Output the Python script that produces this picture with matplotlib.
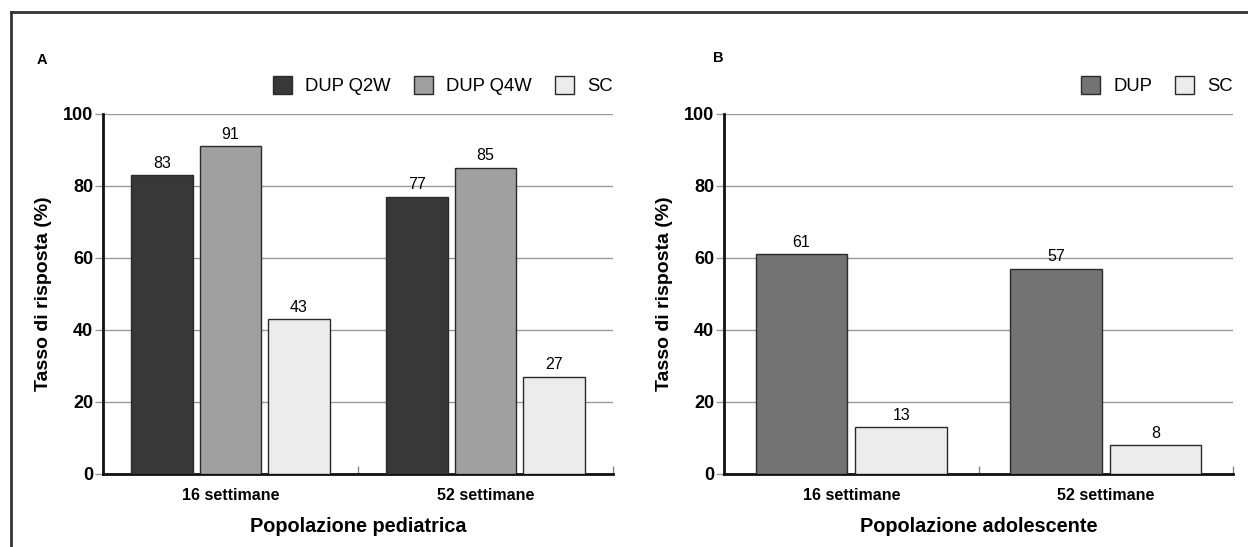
import matplotlib.pyplot as plt
from matplotlib.lines import Line2D
import numpy as np

plt.rcParams['font.family'] = ['Liberation Sans', 'DejaVu Sans']

# Dati
settimane = ['16 settimane', '52 settimane']

ped_serie = ['DUP Q2W', 'DUP Q4W', 'SC']
ped_valori = [[83, 77], [91, 85], [43, 27]]
ped_colori = ['#383838', '#a0a0a0', '#ececec']

ado_serie = ['DUP', 'SC']
ado_valori = [[61, 57], [13, 8]]
ado_colori = ['#737373', '#ececec']

W, H = 1248, 547
fig = plt.figure(figsize=(W / 100, H / 100), dpi=100)


def draw_panel(ax, serie, valori, colori, width, step, xlabel):
    x = np.arange(len(settimane))
    n = len(serie)
    for i, (nome, vals, col) in enumerate(zip(serie, valori, colori)):
        off = (i - (n - 1) / 2) * step
        bars = ax.bar(x + off, vals, width, color=col, edgecolor='#2a2a2a',
                      linewidth=1, label=nome, zorder=3)
        for b, v in zip(bars, vals):
            ax.text(b.get_x() + b.get_width() / 2, v + 1.3, str(v),
                    ha='center', va='bottom', fontsize=11.5, zorder=4)

    ax.set_xlim(-0.5, 1.5)
    ax.set_ylim(0, 100)
    ax.set_yticks([0, 20, 40, 60, 80, 100])
    ax.yaxis.grid(True, color='#9a9a9a', linewidth=1, zorder=0)
    ax.set_axisbelow(True)

    ax.set_xticks(x)
    ax.set_xticklabels(settimane, fontsize=11.5, fontweight='bold')
    ax.tick_params(axis='x', length=0, pad=10)
    ax.set_xticks([0.5, 1.5], minor=True)
    ax.tick_params(axis='x', which='minor', direction='in', length=5.8,
                   color='#888888', width=1)
    ax.tick_params(axis='y', length=5.8, color='#9a9a9a', width=1,
                   labelsize=13, pad=1.4)
    for lab in ax.get_yticklabels():
        lab.set_fontweight('bold')

    for s in ['top', 'right']:
        ax.spines[s].set_visible(False)
    for s in ['left', 'bottom']:
        ax.spines[s].set_linewidth(2)
        ax.spines[s].set_color('#111111')

    ax.set_ylabel('Tasso di risposta (%)', fontsize=14, fontweight='bold',
                  labelpad=8)
    ax.set_xlabel(xlabel, fontsize=14.3, fontweight='bold', labelpad=10)

    ax.legend(loc='center right', bbox_to_anchor=(1.0, 1.078), ncol=n,
              frameon=False, fontsize=13.3, handlelength=1.05,
              handleheight=1.05, handletextpad=0.7, columnspacing=1.25,
              borderaxespad=0, borderpad=0)


axA = fig.add_axes([103 / W, 1 - 474 / H, 510 / W, 360 / H])
axB = fig.add_axes([724 / W, 1 - 474 / H, 509 / W, 360 / H])

draw_panel(axA, ped_serie, ped_valori, ped_colori, 0.243, 0.267,
           'Popolazione pediatrica')
draw_panel(axB, ado_serie, ado_valori, ado_colori, 0.36, 0.392,
           'Popolazione adolescente')

fig.text(42 / W, 1 - 60 / H, 'A', fontsize=10.5, fontweight='bold',
         ha='center', va='center')
fig.text(718 / W, 1 - 58 / H, 'B', fontsize=10.5, fontweight='bold',
         ha='center', va='center')

# cornice
fig.add_artist(Line2D([11 / W, 1], [1 - 12 / H, 1 - 12 / H],
                      color='#333333', linewidth=2))
fig.add_artist(Line2D([11 / W, 11 / W], [0, 1 - 12 / H],
                      color='#333333', linewidth=2))

fig.savefig('out.png', dpi=100)
